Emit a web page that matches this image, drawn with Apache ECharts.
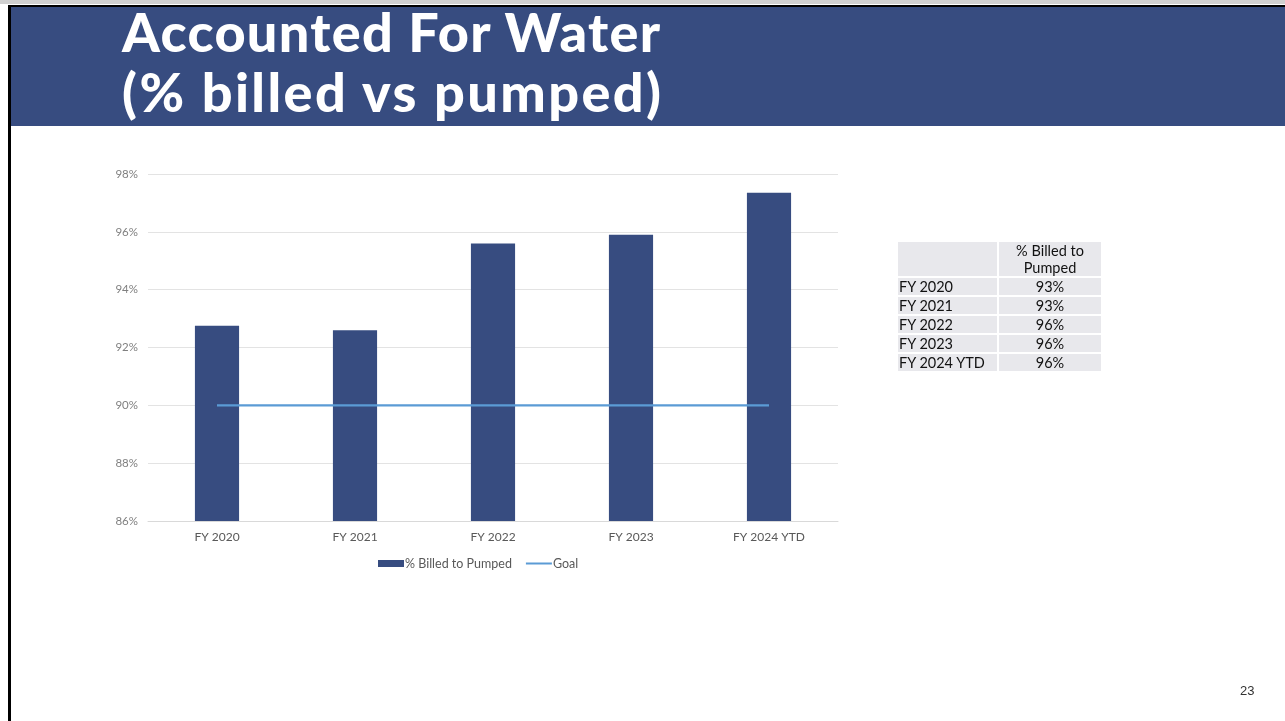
<!DOCTYPE html>
<html>
<head>
<meta charset="utf-8">
<script src="https://cdn.jsdelivr.net/npm/echarts@6/dist/echarts.min.js"></script>
<style>
  html, body { margin: 0; padding: 0; background: #fff; }
  body { width: 1285px; height: 721px; position: relative; overflow: hidden; font-family: Lato, "Open Sans", sans-serif; }
  .topline { position: absolute; left: 0; top: 0; width: 1285px; height: 4px; background: #d0d0d0; }
  .frame { position: absolute; left: 8px; top: 5px; width: 1285px; height: 730px; border-left: 3px solid #000; border-top: 2px solid #000; }
  .band { position: absolute; left: 11px; top: 7px; width: 1274px; height: 119px; background: #374c80; }
  .title { position: absolute; left: 122px; top: 2px; color: #fff; font-weight: 900; font-size: 54px; line-height: 60px; letter-spacing: 1.3px; }
  .title span { letter-spacing: 2.4px; }
  #chart { position: absolute; left: 0; top: 0; width: 1285px; height: 721px; }
  table { position: absolute; left: 896px; top: 240px; border-collapse: collapse; font-size: 14.5px; color: #111; }
  td { background: #e8e8ec; border: 2px solid #fff; padding: 0 1px; height: 17px; line-height: 17px; }
  td.num { text-align: center; width: 100px; }
  td.lab { width: 97px; }
  .page { position: absolute; left: 1240px; top: 683px; font-size: 13px; color: #333; font-family: "Liberation Sans", Arial, sans-serif; }
</style>
</head>
<body>
<div class="topline"></div>
<div class="frame"></div>
<div class="band"></div>
<div class="title">Accounted For Water<br><span>(% billed vs pumped)</span></div>
<div id="chart"></div>
<table id="tbl"></table>
<div class="page">23</div>
<script>
  // 数据
  var categories = ['FY 2020', 'FY 2021', 'FY 2022', 'FY 2023', 'FY 2024 YTD'];
  var billed = [92.75, 92.6, 95.6, 95.9, 97.35];
  var goal = [90, 90, 90, 90, 90];
  var tableLabels = ['FY 2020', 'FY 2021', 'FY 2022', 'FY 2023', 'FY 2024 YTD'];
  var tableValues = ['93%', '93%', '96%', '96%', '96%'];

  // 表格
  var tbl = document.getElementById('tbl');
  var html = '<tr><td class="lab" style="height:34px"></td><td class="num" style="height:34px;line-height:17px">% Billed to<br>Pumped</td></tr>';
  for (var i = 0; i < tableLabels.length; i++) {
    html += '<tr><td class="lab">' + tableLabels[i] + '</td><td class="num">' + tableValues[i] + '</td></tr>';
  }
  tbl.innerHTML = html;

  var chart = echarts.init(document.getElementById('chart'));
  var option = {
    animation: false,
    textStyle: { fontFamily: 'Lato, "Open Sans", sans-serif' },
    grid: { left: 148, right: 447, top: 174, bottom: 200 },
    legend: {
      left: 378,
      top: 557,
      padding: 0,
      itemGap: 14,
      itemWidth: 26,
      itemHeight: 7,
      textStyle: { fontSize: 12.5, color: '#595959', padding: [0, 0, 0, -4] },
      data: [
        { name: '% Billed to Pumped', icon: 'rect' },
        { name: 'Goal', icon: 'path://M0,5 L26,5 L26,7 L0,7 Z' }
      ]
    },
    xAxis: {
      type: 'category',
      data: categories,
      axisLine: { lineStyle: { color: '#d9d9d9' } },
      axisTick: { show: false },
      axisLabel: { color: '#595959', fontSize: 12, margin: 10 }
    },
    yAxis: {
      type: 'value',
      min: 86,
      max: 98,
      interval: 2,
      axisLine: { show: false },
      axisTick: { show: false },
      splitLine: { lineStyle: { color: '#e3e3e3' } },
      axisLabel: { color: '#7f7f7f', fontSize: 11.5, margin: 10, formatter: '{value}%' }
    },
    series: [
      {
        name: '% Billed to Pumped',
        type: 'bar',
        data: billed,
        barWidth: '32%',
        itemStyle: { color: '#374c80' }
      },
      {
        name: 'Goal',
        type: 'line',
        data: goal,
        symbol: 'none',
        lineStyle: { color: '#5b9bd5', width: 2.2 },
        itemStyle: { color: '#5b9bd5' }
      }
    ]
  };
  chart.setOption(option);
</script>
</body>
</html>
